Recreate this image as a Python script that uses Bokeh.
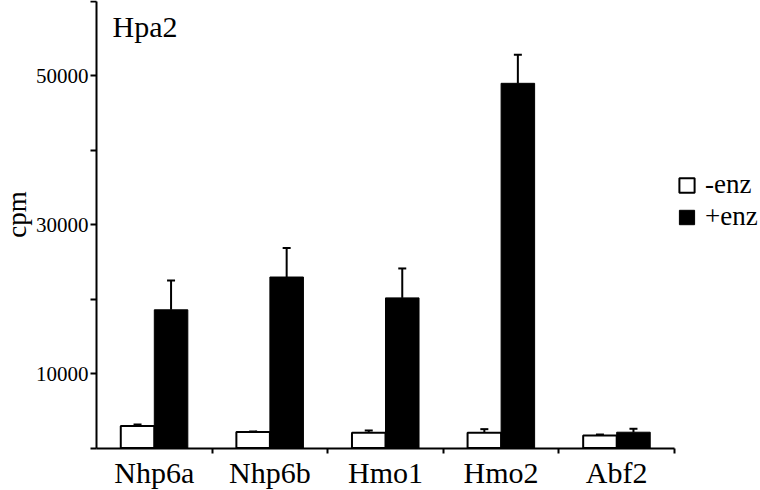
import math
from bokeh.plotting import figure
from bokeh.models import (Range1d, FixedTicker, Whisker, TeeHead, ColumnDataSource,
                          Legend, LegendItem, Label, LinearAxis)
from bokeh.embed import file_html
from bokeh.resources import INLINE

categories = ["Nhp6a", "Nhp6b", "Hmo1", "Hmo2", "Abf2"]
minus_enz = [2950, 2150, 2050, 2050, 1680]
minus_err = [220, 80, 300, 480, 130]
plus_enz = [18550, 22950, 20150, 48950, 2120]
plus_err = [3950, 3900, 3950, 3850, 460]
y_major = [10000, 30000, 50000]
y_minor = [0, 20000, 40000, 60000]
title_text = "Hpa2"
y_label = "cpm"
legend_labels = ["-enz", "+enz"]

FONT = "Liberation Serif"
W, H = 760, 490
n = len(categories)
centers = [i + 0.5 for i in range(n)]
bw = 0.29

# pixel layout of the plotting area inside the canvas
ax_left, ax_right, ax_bottom = 96.0, 674.0, 447.5
px_per_unit_y = 7.45 / 1000.0
px_per_cat = (ax_right - ax_left) / n
x_start = -ax_left / px_per_cat
x_end = n + (W - ax_right) / px_per_cat
y_start = -(H - ax_bottom) / px_per_unit_y
y_end = ax_bottom / px_per_unit_y

src = ColumnDataSource(dict(
    xm=[c - bw / 2 for c in centers],
    xp=[c + bw / 2 for c in centers],
    m=minus_enz, p=plus_enz,
    mu=[a + b for a, b in zip(minus_enz, minus_err)],
    pu=[a + b for a, b in zip(plus_enz, plus_err)],
))

p = figure(width=W, height=H, output_backend="svg", toolbar_location=None,
           x_range=Range1d(x_start, x_end), y_range=Range1d(y_start, y_end),
           min_border_left=0, min_border_right=0, min_border_top=0, min_border_bottom=0,
           x_axis_type=None, y_axis_type=None)
p.xgrid.visible = False
p.ygrid.visible = False
p.outline_line_color = None
p.background_fill_color = "white"
p.border_fill_color = "white"

# y axis
ya = LinearAxis(ticker=FixedTicker(ticks=y_major, minor_ticks=y_minor),
                fixed_location=0, bounds=(0, 60000))
ya.axis_line_width = 2
ya.major_tick_line_width = 2
ya.minor_tick_line_width = 2
ya.major_tick_out = 6
ya.major_tick_in = 0
ya.minor_tick_out = 6
ya.minor_tick_in = 0
ya.major_label_standoff = 2
ya.major_label_text_font = FONT
ya.major_label_text_font_size = "21px"
ya.major_label_text_color = "black"
p.add_layout(ya, "left")

# x axis: labels at centres, ticks at boundaries
xa = LinearAxis(ticker=FixedTicker(ticks=centers, minor_ticks=list(range(1, n + 1))),
                fixed_location=0, bounds=(0, n))
xa.major_label_overrides = {c: t for c, t in zip(centers, categories)}
xa.axis_line_width = 2
xa.minor_tick_line_width = 2
xa.minor_tick_out = 5
xa.minor_tick_in = 0
xa.major_tick_out = 0
xa.major_tick_in = 0
xa.major_label_standoff = 3
xa.major_label_text_font = FONT
xa.major_label_text_font_size = "30px"
xa.major_label_text_color = "black"
p.add_layout(xa, "below")

rm = p.vbar(x="xm", top="m", bottom=0, width=bw, source=src,
            fill_color="white", line_color="black", line_width=2)
rp = p.vbar(x="xp", top="p", bottom=0, width=bw, source=src,
            fill_color="black", line_color="black", line_width=1)

for xcol, base, up in (("xm", "m", "mu"), ("xp", "p", "pu")):
    w = Whisker(source=src, base=xcol, lower=base, upper=up, dimension="height",
                line_width=2, line_color="black",
                upper_head=TeeHead(size=8, line_width=2, line_color="black"),
                lower_head=None)
    p.add_layout(w)

p.add_layout(Label(x=112, y=H - 25.5, x_units="screen", y_units="screen", text=title_text,
                   text_font=FONT, text_font_size="30px", text_baseline="alphabetic",
                   text_color="black"))
p.add_layout(Label(x=16, y=H - 214, x_units="screen", y_units="screen", text=y_label,
                   angle=math.pi / 2, text_font=FONT, text_font_size="27px",
                   text_align="center", text_baseline="middle", text_color="black"))

legend = Legend(items=[LegendItem(label=legend_labels[0], renderers=[rm]),
                       LegendItem(label=legend_labels[1], renderers=[rp])],
                location=(677, H - 232), orientation="vertical",
                glyph_width=19, glyph_height=18, label_height=18, spacing=1,
                padding=0, margin=0, label_standoff=9,
                label_text_font=FONT, label_text_font_size="27px",
                label_text_color="black",
                border_line_color=None, background_fill_alpha=0)
p.add_layout(legend)

open("out.html", "w").write(file_html(p, INLINE))
